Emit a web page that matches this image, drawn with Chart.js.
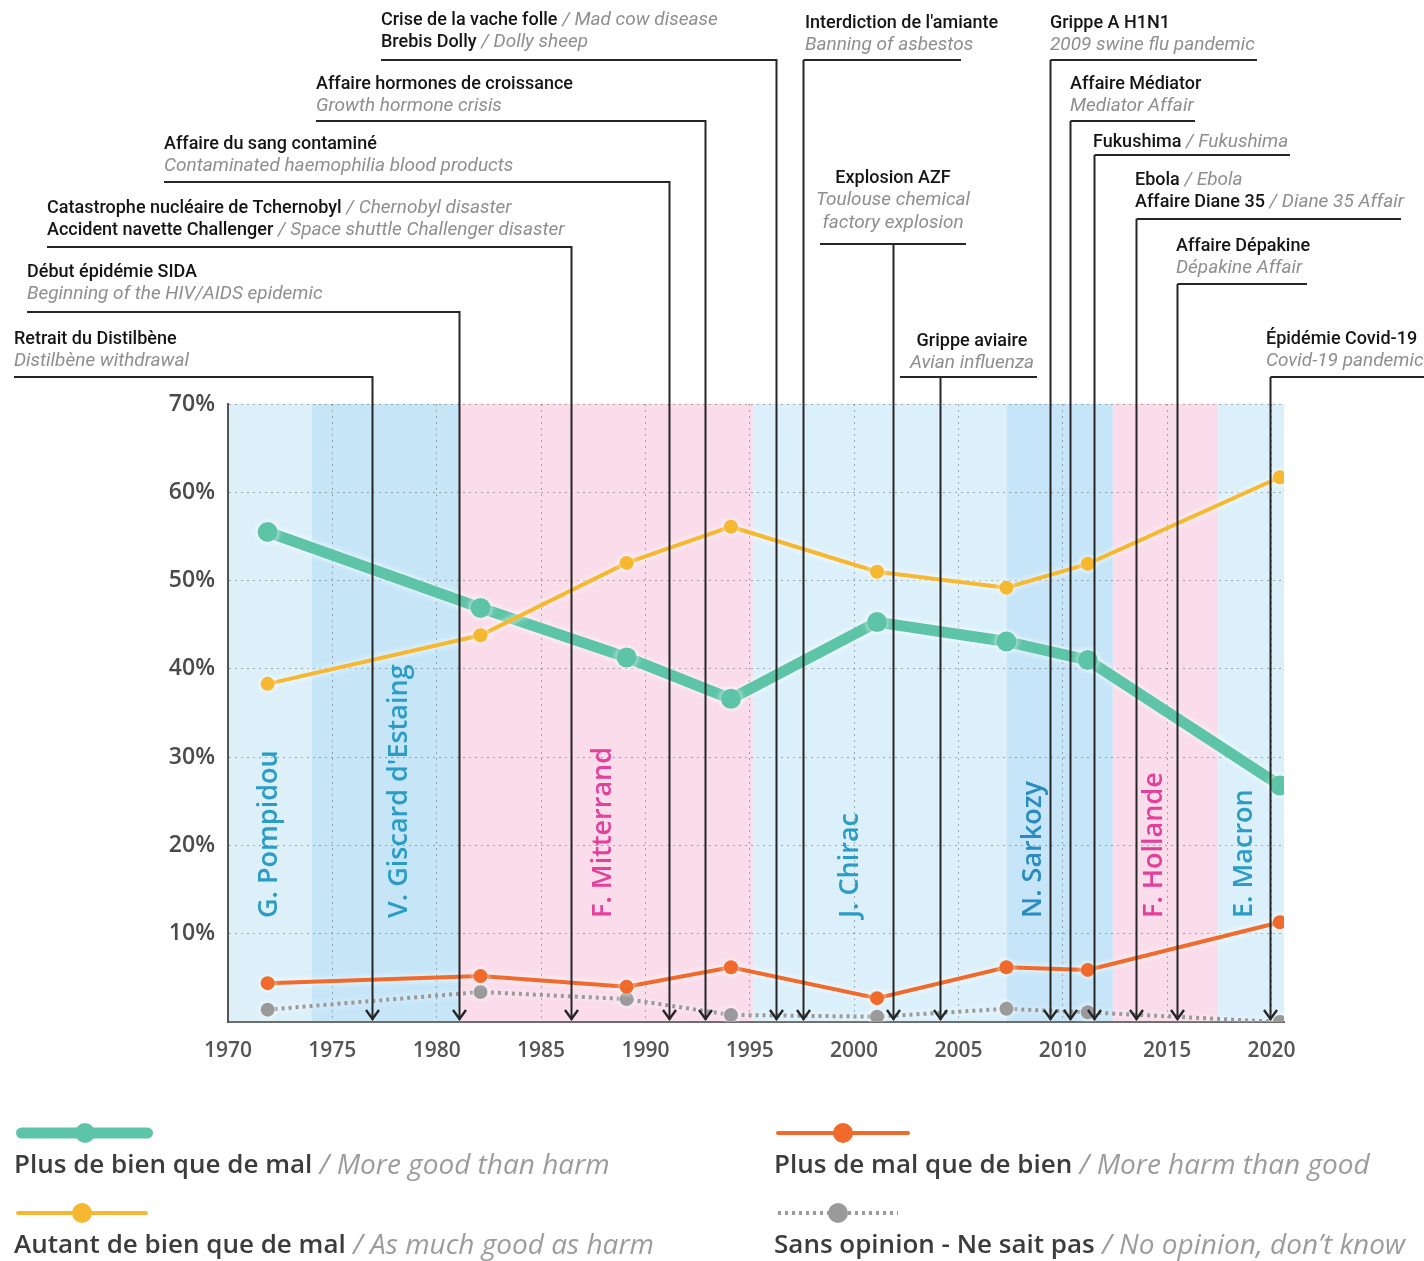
<!DOCTYPE html>
<html>
<head>
<meta charset="utf-8">
<script src="https://cdn.jsdelivr.net/npm/chart.js@4.4.1/dist/chart.umd.min.js"></script>
<style>
    html, body { margin: 0; padding: 0; background: #fff; }
    canvas { display: block; }
</style>
</head>
<body>
<canvas id="chart" width="1424" height="1261"></canvas>
<script>
// Survey years and answers (%)
const surveyYears = [1971.9, 1982.1, 1989.1, 1994.1, 2001.1, 2007.3, 2011.2, 2020.4];
const moreGood   = [55.5, 46.9, 41.3, 36.6, 45.3, 43.1, 41.0, 26.8];
const asMuch     = [38.3, 43.8, 52.0, 56.1, 51.0, 49.2, 51.9, 61.7];
const moreHarm   = [4.4, 5.2, 4.0, 6.2, 2.7, 6.2, 5.9, 11.3];
const noOpinion  = [1.4, 3.4, 2.6, 0.8, 0.6, 1.5, 1.1, 0.0];

const seriesFr = ['Plus de bien que de mal', 'Autant de bien que de mal', 'Plus de mal que de bien', 'Sans opinion - Ne sait pas'];
const seriesEn = ['More good than harm', 'As much good as harm', 'More harm than good', 'No opinion, don\u2019t know'];

const xTicks = [1970, 1975, 1980, 1985, 1990, 1995, 2000, 2005, 2010, 2015, 2020];
const yTicks = [10, 20, 30, 40, 50, 60, 70];

// Presidential terms
const presidents = ['G. Pompidou', 'V. Giscard d\'Estaing', 'F. Mitterrand', 'J. Chirac', 'N. Sarkozy', 'F. Hollande', 'E. Macron'];
const termStarts = [1969.0, 1974.0, 1981.1, 1995.15, 2007.3, 2012.4, 2017.45];
const termEnds   = [1974.0, 1981.1, 1995.15, 2007.3, 2012.4, 2017.45, 2020.7];
const labelYears = [1972.0, 1978.2, 1988.0, 1999.8, 2008.6, 2014.4, 2018.7];

// Health / science events
const eventYears = [1976.9, 1981.05, 1986.45, 1991.15, 1992.85, 1996.25, 1997.55, 2001.85, 2004.1, 2009.4, 2010.35, 2011.5, 2013.5, 2015.45, 2019.95];
const eventTexts = [
    [['Retrait du Distilbène', ''], ['', 'Distilbène withdrawal']],
    [['Début épidémie SIDA', ''], ['', 'Beginning of the HIV/AIDS epidemic']],
    [['Catastrophe nucléaire de Tchernobyl', 'Chernobyl disaster'], ['Accident navette Challenger', 'Space shuttle Challenger disaster']],
    [['Affaire du sang contaminé', ''], ['', 'Contaminated haemophilia blood products']],
    [['Affaire hormones de croissance', ''], ['', 'Growth hormone crisis']],
    [['Crise de la vache folle', 'Mad cow disease'], ['Brebis Dolly', 'Dolly sheep']],
    [['Interdiction de l\'amiante', ''], ['', 'Banning of asbestos']],
    [['Explosion AZF', ''], ['', 'Toulouse chemical'], ['', 'factory explosion']],
    [['Grippe aviaire', ''], ['', 'Avian influenza']],
    [['Grippe A H1N1', ''], ['', '2009 swine flu pandemic']],
    [['Affaire Médiator', ''], ['', 'Mediator Affair']],
    [['Fukushima', 'Fukushima']],
    [['Ebola', 'Ebola'], ['Affaire Diane 35', 'Diane 35 Affair']],
    [['Affaire Dépakine', ''], ['', 'Dépakine Affair']],
    [['Épidémie Covid-19', ''], ['', 'Covid-19 pandemic']]
];

// Layout of the callouts above the plot (pixels)
const eventLayout = [
    { x: 14,   y: 339, line: 377, x0: 14,   x1: null },
    { x: 27,   y: 272, line: 312, x0: 27,   x1: null },
    { x: 47,   y: 208, line: 247, x0: 47,   x1: null },
    { x: 164,  y: 144, line: 182, x0: 164,  x1: null },
    { x: 316,  y: 84,  line: 121, x0: 316,  x1: null },
    { x: 381,  y: 20,  line: 60,  x0: 381,  x1: null },
    { x: 805,  y: 23,  line: 60,  x0: null, x1: 960 },
    { x: 893,  y: 178, line: 244, x0: 820,  x1: 965, center: true },
    { x: 972,  y: 341, line: 377, x0: 900,  x1: 1036, center: true },
    { x: 1050, y: 23,  line: 60,  x0: null, x1: 1256 },
    { x: 1070, y: 84,  line: 121, x0: null, x1: 1194 },
    { x: 1093, y: 142, line: 155, x0: null, x1: 1289 },
    { x: 1135, y: 180, line: 219, x0: null, x1: 1400 },
    { x: 1176, y: 246, line: 284, x0: null, x1: 1306 },
    { x: 1266, y: 339, line: 377, x0: null, x1: 1424 }
];

const termFill  = ['#ddf0fa', '#c6e6f8', '#fadcea', '#dcf0fb', '#c6e5f8', '#fadcea', '#dcf0fb'];
const termInk   = ['#2a9cc6', '#2a9cc6', '#e4409a', '#2a9cc6', '#2a8cc0', '#e4409a', '#2a9cc6'];

// legend slots: [x0, x1, dotX, y] for each series slot
const legendSlots = [
    [16, 153, 85, 1133],
    [16, 148, 82, 1213],
    [776, 910, 843, 1133],
    [776, 900, 838, 1213]
];

const FR_FONT = '500 18px Roboto';
const EN_FONT = 'italic 400 19px Roboto';

function drawMixedRow(ctx, x, y, fr, en, center, frFont, enFont, frColor, enColor) {
    const sep = fr && en ? ' / ' : '';
    ctx.font = frFont;
    const wFr = ctx.measureText(fr).width;
    ctx.font = enFont;
    const wSep = ctx.measureText(sep).width;
    const wEn = ctx.measureText(en).width;
    let cx = center ? x - (wFr + wSep + wEn) / 2 : x;
    ctx.textAlign = 'left';
    ctx.textBaseline = 'middle';
    if (fr) {
        ctx.font = frFont;
        ctx.fillStyle = frColor;
        ctx.fillText(fr, cx, y);
        cx += wFr;
    }
    ctx.font = enFont;
    ctx.fillStyle = enColor;
    if (sep) {
        ctx.fillText(sep, cx, y);
        cx += wSep;
    }
    if (en) ctx.fillText(en, cx, y);
}

const overlay = {
    id: 'overlay',
    beforeDraw(chart) {
        const { ctx, chartArea: a, scales: { x } } = chart;
        ctx.save();
        ctx.fillStyle = '#fff';
        ctx.fillRect(0, 0, chart.width, chart.height);
        termStarts.forEach((s, i) => {
            const x0 = Math.max(a.left, x.getPixelForValue(s));
            const x1 = Math.min(a.right, x.getPixelForValue(termEnds[i]));
            ctx.fillStyle = termFill[i];
            ctx.fillRect(x0, a.top, x1 - x0, a.bottom - a.top);
        });
        ctx.restore();
    },
    beforeDatasetsDraw(chart) {
        const { ctx, scales: { x } } = chart;
        ctx.save();
        ctx.font = '600 27px "Open Sans"';
        ctx.textAlign = 'left';
        ctx.textBaseline = 'middle';
        presidents.forEach((name, i) => {
            ctx.save();
            ctx.translate(x.getPixelForValue(labelYears[i]), 918);
            ctx.rotate(-Math.PI / 2);
            ctx.fillStyle = termInk[i];
            ctx.fillText(name, 0, 0);
            ctx.restore();
        });
        ctx.restore();
    },
    afterDatasetsDraw(chart) {
        const { ctx, chartArea: a, scales: { x } } = chart;
        ctx.save();
        eventYears.forEach((yr, i) => {
            const lay = eventLayout[i];
            const ax = Math.round(x.getPixelForValue(yr)) + 0.5;
            const x0 = lay.x0 === null ? ax : Math.min(lay.x0, ax);
            const x1 = lay.x1 === null ? ax : Math.max(lay.x1, ax);
            const bottom = a.bottom - 2;

            ctx.strokeStyle = '#262626';
            ctx.lineWidth = 2;
            ctx.lineCap = 'butt';
            ctx.beginPath();
            ctx.moveTo(x0, lay.line);
            ctx.lineTo(x1 + 1, lay.line);
            ctx.moveTo(ax, lay.line);
            ctx.lineTo(ax, bottom);
            ctx.stroke();

            ctx.beginPath();
            ctx.moveTo(ax - 6.5, bottom - 10);
            ctx.lineTo(ax, bottom - 1);
            ctx.lineTo(ax + 6.5, bottom - 10);
            ctx.lineWidth = 2.4;
            ctx.stroke();

            eventTexts[i].forEach((row, r) => {
                drawMixedRow(ctx, lay.x, lay.y + r * 22.5, row[0], row[1], !!lay.center,
                    FR_FONT, EN_FONT, '#151515', '#8e8e8e');
            });
        });
        ctx.restore();
    },
    afterDraw(chart) {
        const ctx = chart.ctx;
        ctx.save();
        chart.data.datasets.forEach(ds => {
            const [lx0, lx1, dotX, ly] = legendSlots[ds.slot];
            ctx.strokeStyle = ds.borderColor;
            ctx.lineWidth = ds.borderWidth;
            ctx.lineCap = ds.borderDash ? 'butt' : 'round';
            ctx.setLineDash(ds.borderDash || []);
            ctx.beginPath();
            ctx.moveTo(lx0 + ds.borderWidth / 2, ly);
            ctx.lineTo(lx1 - ds.borderWidth / 2, ly);
            ctx.stroke();
            ctx.setLineDash([]);
            ctx.fillStyle = ds.pointBackgroundColor;
            ctx.beginPath();
            ctx.arc(dotX, ly, 10, 0, Math.PI * 2);
            ctx.fill();
            drawMixedRow(ctx, lx0 - 2, ly + 33, seriesFr[ds.slot], seriesEn[ds.slot], false,
                '600 26px "Open Sans"', 'italic 400 28px "Open Sans"', '#3c3c3c', '#9c9c9c');
        });
        ctx.restore();
    }
};

const halo = {
    id: 'halo',
    beforeDatasetDraw(chart) {
        const c = chart.ctx;
        c.save();
        c.shadowColor = 'rgba(255,255,255,0.95)';
        c.shadowBlur = 6;
    },
    afterDatasetDraw(chart) {
        chart.ctx.restore();
    }
};

const toPoints = vals => vals.map((v, i) => ({ x: surveyYears[i], y: v }));

new Chart(document.getElementById('chart'), {
    type: 'line',
    data: {
        datasets: [
            {
                label: seriesFr[1], slot: 1, order: 0,
                data: toPoints(asMuch),
                borderColor: '#f6b830', pointBackgroundColor: '#f6b830',
                borderWidth: 4, pointRadius: 7, pointBorderWidth: 0
            },
            {
                label: seriesFr[2], slot: 2, order: 1,
                data: toPoints(moreHarm),
                borderColor: '#f06a2b', pointBackgroundColor: '#f06a2b',
                borderWidth: 4, pointRadius: 7, pointBorderWidth: 0
            },
            {
                label: seriesFr[3], slot: 3, order: 2,
                data: toPoints(noOpinion),
                borderColor: '#9a9a9a', pointBackgroundColor: '#9a9a9a',
                borderWidth: 4, borderDash: [3, 4], pointRadius: 7, pointBorderWidth: 0
            },
            {
                label: seriesFr[0], slot: 0, order: 3,
                data: toPoints(moreGood),
                borderColor: '#5ec4a8', pointBackgroundColor: '#5ec4a8',
                borderWidth: 11, pointRadius: 10, pointBorderWidth: 0,
                borderCapStyle: 'round', borderJoinStyle: 'round'
            }
        ]
    },
    options: {
        responsive: false,
        animation: false,
        events: [],
        layout: { padding: { top: 404, right: 140, bottom: 179, left: 0 } },
        plugins: {
            legend: { display: false },
            tooltip: { enabled: false }
        },
        scales: {
            x: {
                type: 'linear',
                min: 1970,
                max: 2020.6,
                afterBuildTicks: s => { s.ticks = xTicks.map(v => ({ value: v })); },
                afterFit: s => { s.height = 60; },
                grid: { color: 'rgba(80,80,80,0.45)', lineWidth: 1, drawTicks: false },
                border: { display: true, color: '#6e6e6e', width: 2, dash: [2, 4] },
                ticks: {
                    padding: 16,
                    maxRotation: 0,
                    color: '#555',
                    font: { family: 'Open Sans', size: 21, weight: '600' },
                    callback: v => String(v)
                }
            },
            y: {
                min: 0,
                max: 70,
                afterBuildTicks: s => { s.ticks = yTicks.map(v => ({ value: v })); },
                afterFit: s => { s.width = 228; },
                grid: { color: 'rgba(80,80,80,0.45)', lineWidth: 1, drawTicks: false },
                border: { display: true, color: '#555', width: 2, dash: [2, 4] },
                ticks: {
                    padding: 13,
                    color: '#4a4a4a',
                    font: { family: 'Open Sans', size: 23, weight: '600' },
                    callback: v => v + '%'
                }
            }
        }
    },
    plugins: [overlay, halo]
});
</script>
</body>
</html>
